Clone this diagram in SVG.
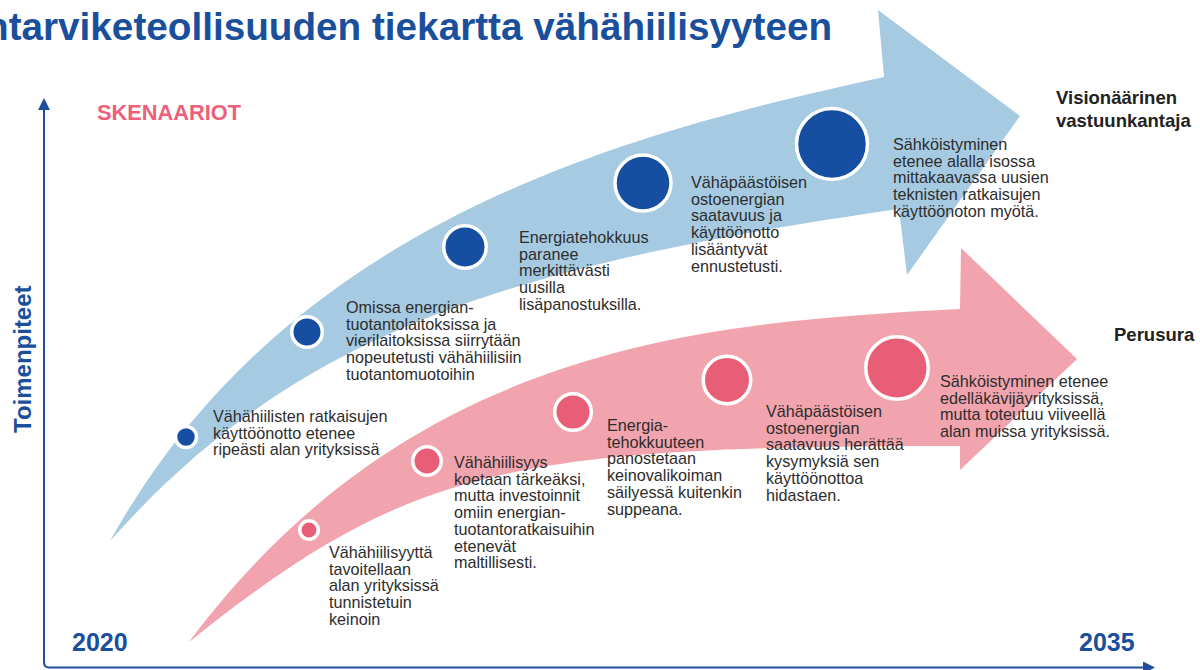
<svg xmlns="http://www.w3.org/2000/svg" width="1200" height="670" viewBox="0 0 1200 670">
  <defs>
    <style>
      .title { font-family: "Liberation Sans", Arial, sans-serif; font-weight: bold; font-size: 38.7px; fill: #1a4f9c; }
      .tag { font-family: "Liberation Sans", Arial, sans-serif; font-weight: bold; font-size: 21.8px; fill: #ee6079; }
      .axis-label { font-family: "Liberation Sans", Arial, sans-serif; font-weight: bold; font-size: 24px; fill: #1a4f9c; }
      .year { font-family: "Liberation Sans", Arial, sans-serif; font-weight: bold; font-size: 25px; fill: #1a4f9c; }
      .scenario { font-family: "Liberation Sans", Arial, sans-serif; font-weight: bold; font-size: 18.5px; fill: #222222; }
      .body { font-family: "Liberation Sans", Arial, sans-serif; font-size: 16.2px; fill: #2d2d2d; }
      .band-blue { fill: #a6cae2; }
      .band-pink { fill: #f2a4ae; }
      .dot-blue { fill: #164fa2; stroke: #ffffff; stroke-width: 3.5; }
      .dot-pink { fill: #e85e76; stroke: #ffffff; stroke-width: 3.5; }
      .axis { fill: none; stroke: #1f4f9c; stroke-width: 2; }
    </style>
    <marker id="axis-head" viewBox="0 0 12 12" refX="0" refY="6" markerWidth="12" markerHeight="12" markerUnits="userSpaceOnUse" orient="auto">
      <path d="M0,0 L12,6 L0,12 Z" fill="#1f4f9c"/>
    </marker>
  </defs>

  <!-- heading -->
  <text class="title" x="-15" y="40">ntarviketeollisuuden tiekartta vähähiilisyyteen</text>
  <text class="tag" x="97" y="120">SKENAARIOT</text>

  <!-- upper scenario band -->
  <g id="band-vision">
    <path class="band-blue" d="M110,541 C290,217 634,132 884,77 L878,10 L1020,116 L907,275 L899,209 C493,267 290,339 110,541 Z"/>
  </g>

  <!-- lower scenario band -->
  <g id="band-base">
    <path class="band-pink" d="M189,642 C409,347 700,322 960,309 L961,248 L1077,359 L960,470 L960,446 C510,446 409,466 189,642 Z"/>
  </g>

  <!-- axes -->
  <g id="axes">
    <path class="axis" d="M44,663 V110" marker-end="url(#axis-head)"/>
    <path class="axis" d="M44,662 Q44,667.5 49,667.5 H1143" marker-end="url(#axis-head)"/>
  </g>

  <text class="axis-label" transform="translate(31,433) rotate(-90)">Toimenpiteet</text>
  <text class="year" x="72" y="651">2020</text>
  <text class="year" x="1079" y="651">2035</text>

  <g id="label-vision">
    <text class="scenario" x="1056" y="104">Visionäärinen<tspan x="1056" dy="22.5">vastuunkantaja</tspan></text>
  </g>
  <g id="label-base">
    <text class="scenario" x="1114" y="341">Perusura</text>
  </g>

  <!-- milestones, upper band -->
  <g id="vision-1">
    <circle class="dot-blue" cx="186" cy="437" r="10.5" stroke-width="3"/>
    <text class="body" x="213" y="422">Vähähiilisten ratkaisujen<tspan x="213" dy="16.7">käyttöönotto etenee</tspan><tspan x="213" dy="16.7">ripeästi alan yrityksissä</tspan></text>
  </g>
  <g id="vision-2">
    <circle class="dot-blue" cx="307" cy="332" r="15.25"/>
    <text class="body" x="346" y="313">Omissa energian-<tspan x="346" dy="16.7">tuotantolaitoksissa ja</tspan><tspan x="346" dy="16.7">vierilaitoksissa siirrytään</tspan><tspan x="346" dy="16.7">nopeutetusti vähähiilisiin</tspan><tspan x="346" dy="16.7">tuotantomuotoihin</tspan></text>
  </g>
  <g id="vision-3">
    <circle class="dot-blue" cx="465" cy="247" r="21.25"/>
    <text class="body" x="519" y="243">Energiatehokkuus<tspan x="519" dy="16.7">paranee</tspan><tspan x="519" dy="16.7">merkittävästi</tspan><tspan x="519" dy="16.7">uusilla</tspan><tspan x="519" dy="16.7">lisäpanostuksilla.</tspan></text>
  </g>
  <g id="vision-4">
    <circle class="dot-blue" cx="643" cy="183" r="28"/>
    <text class="body" x="691" y="188">Vähäpäästöisen<tspan x="691" dy="16.7">ostoenergian</tspan><tspan x="691" dy="16.7">saatavuus ja</tspan><tspan x="691" dy="16.7">käyttöönotto</tspan><tspan x="691" dy="16.7">lisääntyvät</tspan><tspan x="691" dy="16.7">ennustetusti.</tspan></text>
  </g>
  <g id="vision-5">
    <circle class="dot-blue" cx="832" cy="144" r="35.5"/>
    <text class="body" x="893" y="150">Sähköistyminen<tspan x="893" dy="16.7">etenee alalla isossa</tspan><tspan x="893" dy="16.7">mittakaavassa uusien</tspan><tspan x="893" dy="16.7">teknisten ratkaisujen</tspan><tspan x="893" dy="16.7">käyttöönoton myötä.</tspan></text>
  </g>

  <!-- milestones, lower band -->
  <g id="base-1">
    <circle class="dot-pink" cx="309" cy="530" r="9.25"/>
    <text class="body" x="329" y="558">Vähähiilisyyttä<tspan x="329" dy="16.7">tavoitellaan</tspan><tspan x="329" dy="16.7">alan yrityksissä</tspan><tspan x="329" dy="16.7">tunnistetuin</tspan><tspan x="329" dy="16.7">keinoin</tspan></text>
  </g>
  <g id="base-2">
    <circle class="dot-pink" cx="427" cy="461" r="14.25"/>
    <text class="body" x="454" y="468">Vähähiilisyys<tspan x="454" dy="16.7">koetaan tärkeäksi,</tspan><tspan x="454" dy="16.7">mutta investoinnit</tspan><tspan x="454" dy="16.7">omiin energian-</tspan><tspan x="454" dy="16.7">tuotantoratkaisuihin</tspan><tspan x="454" dy="16.7">etenevät</tspan><tspan x="454" dy="16.7">maltillisesti.</tspan></text>
  </g>
  <g id="base-3">
    <circle class="dot-pink" cx="573" cy="412" r="18.25"/>
    <text class="body" x="607" y="431">Energia-<tspan x="607" dy="16.7">tehokkuuteen</tspan><tspan x="607" dy="16.7">panostetaan</tspan><tspan x="607" dy="16.7">keinovalikoiman</tspan><tspan x="607" dy="16.7">säilyessä kuitenkin</tspan><tspan x="607" dy="16.7">suppeana.</tspan></text>
  </g>
  <g id="base-4">
    <circle class="dot-pink" cx="727" cy="380" r="23.75"/>
    <text class="body" x="766" y="417">Vähäpäästöisen<tspan x="766" dy="16.7">ostoenergian</tspan><tspan x="766" dy="16.7">saatavuus herättää</tspan><tspan x="766" dy="16.7">kysymyksiä sen</tspan><tspan x="766" dy="16.7">käyttöönottoa</tspan><tspan x="766" dy="16.7">hidastaen.</tspan></text>
  </g>
  <g id="base-5">
    <circle class="dot-pink" cx="897" cy="368" r="31.25"/>
    <text class="body" x="940" y="387">Sähköistyminen etenee<tspan x="940" dy="16.7">edelläkävijäyrityksissä,</tspan><tspan x="940" dy="16.7">mutta toteutuu viiveellä</tspan><tspan x="940" dy="16.7">alan muissa yrityksissä.</tspan></text>
  </g>
</svg>
